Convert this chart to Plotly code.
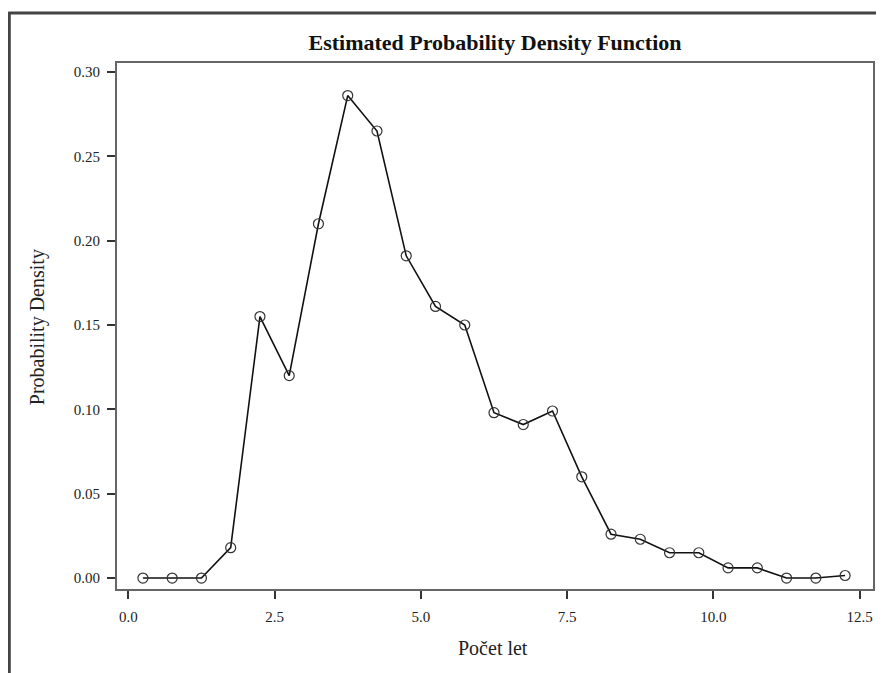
import plotly.graph_objects as go

x_vals = [0.25, 0.75, 1.25, 1.75, 2.25, 2.75, 3.25, 3.75, 4.25, 4.75, 5.25, 5.75,
          6.25, 6.75, 7.25, 7.75, 8.25, 8.75, 9.25, 9.75, 10.25, 10.75, 11.25, 11.75, 12.25]
density = [0.0, 0.0, 0.0, 0.018, 0.155, 0.120, 0.210, 0.286, 0.265, 0.191, 0.161, 0.150,
           0.098, 0.091, 0.099, 0.060, 0.026, 0.023, 0.015, 0.015, 0.006, 0.006, 0.0, 0.0, 0.0015]
x_ticks = [0.0, 2.5, 5.0, 7.5, 10.0, 12.5]
y_ticks = [0.00, 0.05, 0.10, 0.15, 0.20, 0.25, 0.30]

OFF = 8  # page body margin
W, H = 884 - OFF, 673 - OFF
# plot area in window pixels: left 117, right 875, top 63, bottom 589
ml, mt = 117 - OFF, 63 - OFF
mr = W - (875 - OFF)
mb = H - (589 - OFF)

fig = go.Figure()
fig.add_trace(go.Scatter(
    x=x_vals, y=density, mode="lines+markers",
    line=dict(color="#111111", width=1.6),
    marker=dict(symbol="circle-open", size=10, color="#333333", line=dict(width=1.2)),
    showlegend=False,
))

serif = "Liberation Serif"
axis_common = dict(
    showline=True, linecolor="#666666", linewidth=2, mirror=True,
    ticks="outside", ticklen=8, tickwidth=1.5, tickcolor="#333333",
    showgrid=False, zeroline=False,
    tickfont=dict(family=serif, size=15, color="#222222"),
)
fig.update_xaxes(range=[-0.193, 12.727], tickvals=x_ticks, tickformat=".1f",
                 ticklabelstandoff=5, **axis_common)
fig.update_yaxes(range=[-0.0065, 0.3053], tickvals=y_ticks, tickformat=".2f",
                 ticklabelstandoff=4, **axis_common)


def px_x(p):
    return (p - OFF - ml) / (W - ml - mr)


def px_y(p):
    return 1 - (p - OFF - mt) / (H - mt - mb)


fig.update_layout(
    width=W, height=H,
    margin=dict(l=ml, r=mr, t=mt, b=mb),
    paper_bgcolor="white", plot_bgcolor="white",
    title=dict(text="Estimated Probability Density Function", x=(495 - OFF) / W, xanchor="center",
               y=1 - (42 - OFF) / H, yanchor="middle",
               font=dict(family=serif, size=22, color="#111111", weight="bold")),
    annotations=[
        dict(text="Počet let", xref="paper", yref="paper", x=px_x(494), y=px_y(648),
             xanchor="center", yanchor="middle", showarrow=False,
             font=dict(family=serif, size=20, color="#222222")),
        dict(text="Probability Density", xref="paper", yref="paper", x=px_x(37), y=px_y(327),
             xanchor="center", yanchor="middle", showarrow=False, textangle=-90,
             font=dict(family=serif, size=20, color="#222222")),
    ],
    shapes=[
        dict(type="line", xref="paper", yref="paper", x0=px_x(8), x1=px_x(884 + 5), y0=px_y(13), y1=px_y(13),
             line=dict(color="#444444", width=3)),
        dict(type="line", xref="paper", yref="paper", x0=px_x(9), x1=px_x(9), y0=px_y(12), y1=px_y(673 + 5),
             line=dict(color="#444444", width=3)),
    ],
)

fig.write_html("out.html")
